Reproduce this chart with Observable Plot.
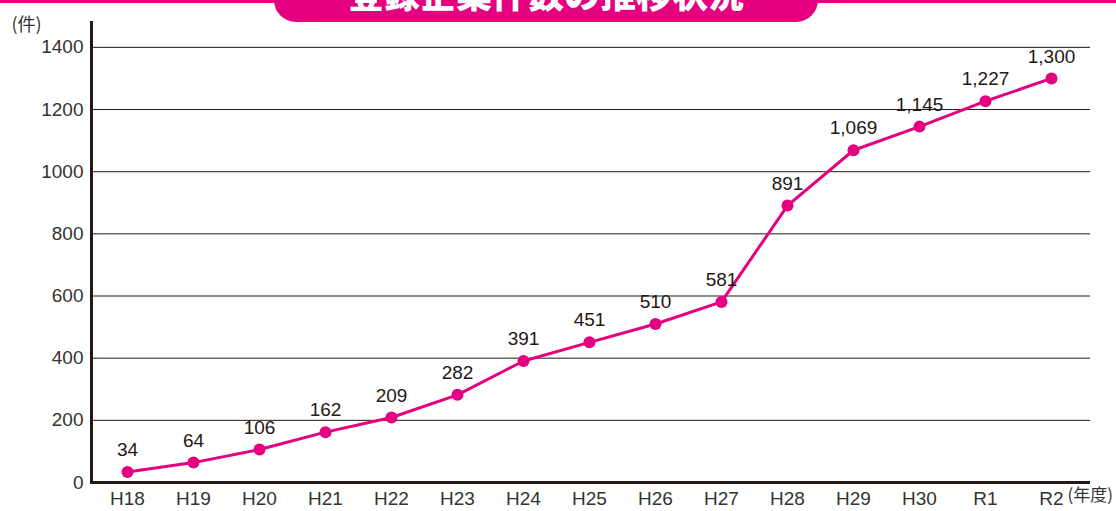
<!DOCTYPE html>
<html><head><meta charset="utf-8">
<script src="https://cdn.jsdelivr.net/npm/d3@7"></script>
<script src="https://cdn.jsdelivr.net/npm/@observablehq/plot@0.6"></script>
<style>
html,body{margin:0;padding:0;background:#fff;}
#wrap{position:relative;width:1116px;height:511px;overflow:hidden;font-family:"Noto Sans CJK JP","Noto Sans",sans-serif;}
#band{position:absolute;left:0;top:0;width:1116px;height:3px;background:#e4007f;}
#tab{position:absolute;left:274px;top:0;width:544px;height:22px;background:#e4007f;border-radius:0 0 22px 22px;overflow:hidden;}
#title{position:absolute;left:0;width:544px;top:-30px;text-align:center;color:#fff;font-weight:900;font-size:36px;line-height:44px;letter-spacing:0px;white-space:nowrap;}
#chart{position:absolute;left:0;top:0;}
</style></head>
<body>
<div id="wrap">
<div id="chart"></div>
<div id="band"></div>
<div id="tab"><div id="title">登録企業件数の推移状況</div></div>
</div>
<script>
const years = ["H18","H19","H20","H21","H22","H23","H24","H25","H26","H27","H28","H29","H30","R1","R2"];
const counts = [34,64,106,162,209,282,391,451,510,581,891,1069,1145,1227,1300];
const yTicks = [0,200,400,600,800,1000,1200,1400];
const gridTicks = [200,400,600,800,1000,1200,1400];
const yUnit = "(件)";
const xUnit = "(年度)";

const data = years.map((y,i)=>({year:y, value:counts[i]}));
const ink = "#231815";
const soft = "#333";
const pink = "#e4007f";
const fmt = d3.format(",");
const numFont = "'Liberation Sans', Arial, sans-serif";
const jpFont = "'Noto Sans CJK JP', sans-serif";

const chart = Plot.plot({
  width: 1116,
  height: 511,
  marginLeft: 91,
  marginRight: 26,
  marginTop: 22,
  marginBottom: 29,
  style: {fontFamily: numFont, background: "transparent", color: ink},
  x: {type: "point", domain: years, range: [126, 1052], padding: 0},
  y: {domain: [0, 1480]},
  marks: [
    Plot.ruleY(gridTicks, {stroke: ink, strokeWidth: 1}),
    Plot.ruleY([0], {stroke: ink, strokeWidth: 3}),
    Plot.frame({anchor: "left", stroke: ink, strokeWidth: 3}),
    Plot.axisY({ticks: yTicks, tickSize: 0, tickPadding: 8, fontSize: 19, fill: soft, label: null, tickFormat: d => String(d)}),
    Plot.axisX({tickSize: 0, tickPadding: 9, fontSize: 19, fill: soft, label: null}),
    Plot.line(data, {x: "year", y: "value", stroke: pink, strokeWidth: 3}),
    Plot.dot(data, {x: "year", y: "value", r: 6, fill: pink}),
    Plot.text(data, {x: "year", y: "value", text: d => fmt(d.value), dy: -22, fontSize: 19, fill: ink}),
    Plot.text([yUnit], {frameAnchor: "top-left", text: d => d, dx: -80, dy: -4, textAnchor: "start", fontSize: 18, fill: soft, fontFamily: jpFont}),
    Plot.text([xUnit], {frameAnchor: "bottom-right", text: d => d, dx: -23, dy: 18, textAnchor: "start", fontSize: 17, fill: soft, fontFamily: jpFont})
  ]
});
document.getElementById("chart").appendChild(chart);
</script>
</body></html>
